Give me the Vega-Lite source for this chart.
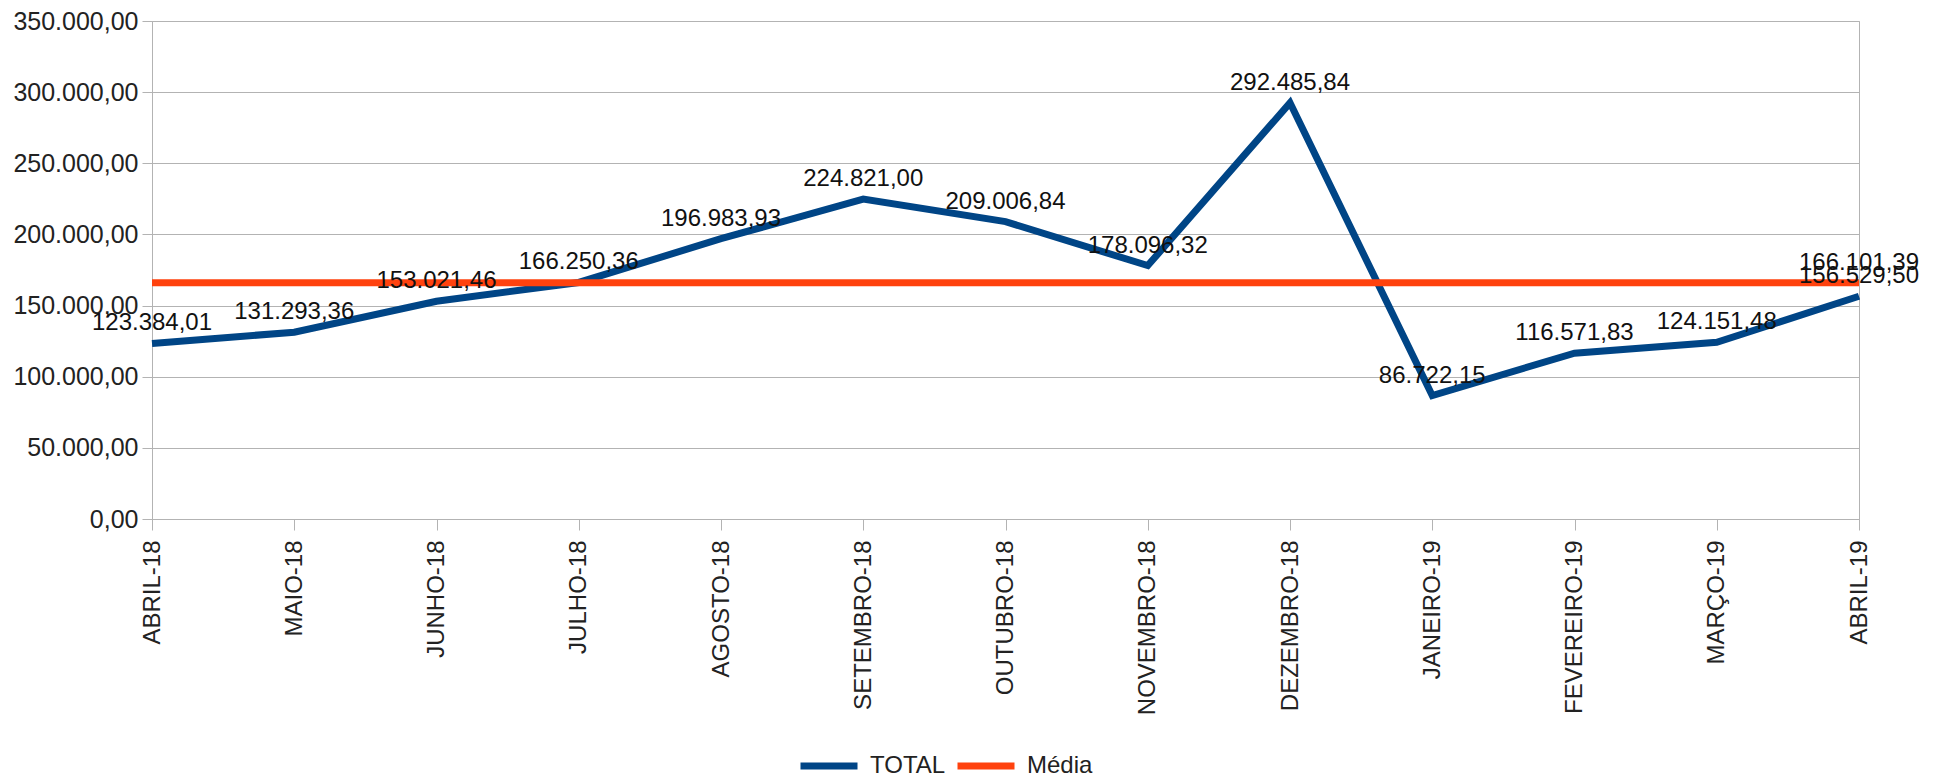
{
  "$schema": "https://vega.github.io/schema/vega-lite/v6.json",
  "autosize": "none",
  "padding": {"left": 152, "top": 21, "right": 83, "bottom": 259},
  "width": 1707,
  "height": 498,
  "background": "white",
  "data": {"values": [
    {"mes": "ABRIL-18", "serie": "TOTAL", "valor": 123384.01},
    {"mes": "MAIO-18", "serie": "TOTAL", "valor": 131293.36},
    {"mes": "JUNHO-18", "serie": "TOTAL", "valor": 153021.46},
    {"mes": "JULHO-18", "serie": "TOTAL", "valor": 166250.36},
    {"mes": "AGOSTO-18", "serie": "TOTAL", "valor": 196983.93},
    {"mes": "SETEMBRO-18", "serie": "TOTAL", "valor": 224821.00},
    {"mes": "OUTUBRO-18", "serie": "TOTAL", "valor": 209006.84},
    {"mes": "NOVEMBRO-18", "serie": "TOTAL", "valor": 178096.32},
    {"mes": "DEZEMBRO-18", "serie": "TOTAL", "valor": 292485.84},
    {"mes": "JANEIRO-19", "serie": "TOTAL", "valor": 86722.15},
    {"mes": "FEVEREIRO-19", "serie": "TOTAL", "valor": 116571.83},
    {"mes": "MARÇO-19", "serie": "TOTAL", "valor": 124151.48},
    {"mes": "ABRIL-19", "serie": "TOTAL", "valor": 156529.50},
    {"mes": "ABRIL-18", "serie": "Média", "valor": 166101.39},
    {"mes": "MAIO-18", "serie": "Média", "valor": 166101.39},
    {"mes": "JUNHO-18", "serie": "Média", "valor": 166101.39},
    {"mes": "JULHO-18", "serie": "Média", "valor": 166101.39},
    {"mes": "AGOSTO-18", "serie": "Média", "valor": 166101.39},
    {"mes": "SETEMBRO-18", "serie": "Média", "valor": 166101.39},
    {"mes": "OUTUBRO-18", "serie": "Média", "valor": 166101.39},
    {"mes": "NOVEMBRO-18", "serie": "Média", "valor": 166101.39},
    {"mes": "DEZEMBRO-18", "serie": "Média", "valor": 166101.39},
    {"mes": "JANEIRO-19", "serie": "Média", "valor": 166101.39},
    {"mes": "FEVEREIRO-19", "serie": "Média", "valor": 166101.39},
    {"mes": "MARÇO-19", "serie": "Média", "valor": 166101.39},
    {"mes": "ABRIL-19", "serie": "Média", "valor": 166101.39}
  ]},
  "encoding": {
    "x": {
      "field": "mes", "type": "ordinal", "sort": null,
      "scale": {"type": "point", "padding": 0},
      "axis": {
        "title": null, "labelAngle": 270, "labelFontSize": 24, "labelColor": "#222222",
        "labelFont": "Liberation Sans", "tickSize": 11, "tickColor": "#b3b3b3",
        "domainColor": "#b3b3b3", "labelPadding": 10, "grid": false
      }
    },
    "y": {
      "field": "valor", "type": "quantitative",
      "scale": {"domain": [0, 350000], "nice": false, "zero": true},
      "axis": {
        "title": null, "values": [0, 50000, 100000, 150000, 200000, 250000, 300000, 350000],
        "format": ",.2f", "labelFontSize": 25, "labelColor": "#222222", "labelFont": "Liberation Sans",
        "tickSize": 10, "tickColor": "#b3b3b3", "domainColor": "#b3b3b3",
        "gridColor": "#b3b3b3", "grid": true, "labelPadding": 4
      }
    },
    "color": {
      "field": "serie", "type": "nominal",
      "scale": {"domain": ["TOTAL", "Média"], "range": ["#004586", "#ff420e"]},
      "legend": {
        "title": null, "orient": "none", "direction": "horizontal",
        "legendX": 645, "legendY": 713, "padding": 0, "gridAlign": "none",
        "symbolType": "stroke", "symbolSize": 3249, "symbolStrokeWidth": 7,
        "labelFontSize": 24, "labelFont": "Liberation Sans", "labelColor": "#222222",
        "labelOffset": 9, "columnPadding": -3
      }
    }
  },
  "layer": [
    {
      "transform": [{"filter": "datum.serie == 'TOTAL'"}],
      "mark": {"type": "line", "strokeWidth": 7, "strokeJoin": "miter", "strokeMiterLimit": 10}
    },
    {
      "transform": [{"filter": "datum.serie == 'Média'"}],
      "mark": {"type": "line", "strokeWidth": 7}
    },
    {
      "transform": [{"filter": "datum.serie == 'TOTAL' || datum.mes == 'ABRIL-19'"}],
      "mark": {"type": "text", "dy": -13, "baseline": "alphabetic", "align": "center", "fontSize": 24, "font": "Liberation Sans", "color": "#111111"},
      "encoding": {
        "text": {"field": "valor", "type": "quantitative", "format": ",.2f"},
        "color": {"value": "#111111"}
      }
    }
  ],
  "config": {
    "view": {"stroke": "#b3b3b3"},
    "legend": {"symbolStrokeWidth": 7},
    "locale": {"number": {"decimal": ",", "thousands": ".", "grouping": [3], "currency": ["R$", ""]}}
  }
}
